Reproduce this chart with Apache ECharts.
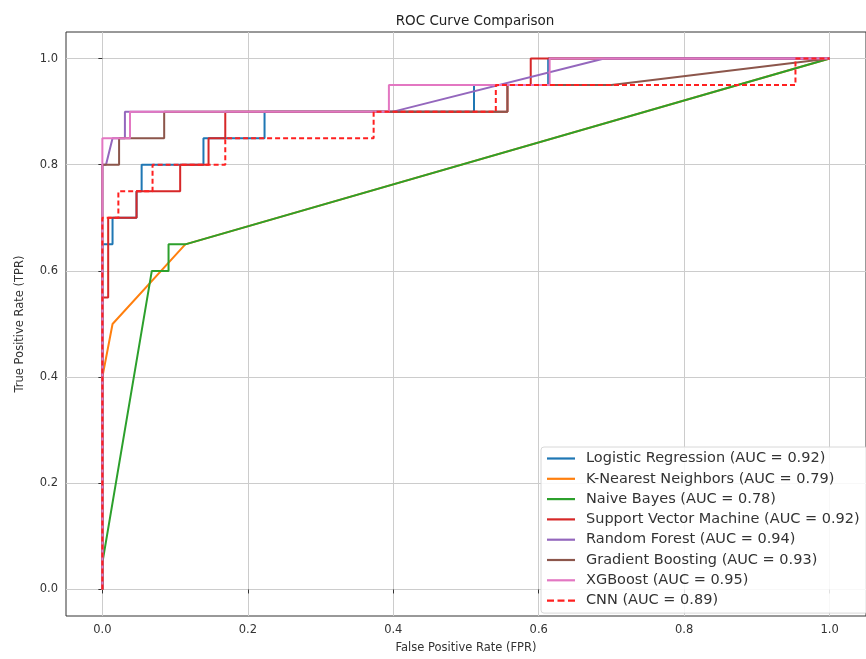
<!DOCTYPE html>
<html lang="en">
<head>
    <meta charset="UTF-8">
    <title>ROC Curve Comparison</title>
    <style>
        * { margin: 0; padding: 0; }
        body { background: #fff; }
        #chart { width: 866px; height: 659px; }
    </style>
</head>
<body>
    <div id="chart"></div>
    <script src="https://cdn.jsdelivr.net/npm/echarts@6.0.0/dist/echarts.min.js"></script>
    <script type="text/javascript">
        // ROC points (FPR / TPR pairs)
        var lrFpr = [0, 0, 0.014, 0.014, 0.047, 0.047, 0.054, 0.054, 0.139, 0.139, 0.223, 0.223, 0.511, 0.511, 0.613, 0.613, 1];
        var lrTpr = [0, 0.65, 0.65, 0.7, 0.7, 0.75, 0.75, 0.8, 0.8, 0.85, 0.85, 0.9, 0.9, 0.95, 0.95, 1, 1];

        var knnFpr = [0, 0, 0.014, 0.114, 1];
        var knnTpr = [0, 0.4, 0.5, 0.65, 1];

        var nbFpr = [0, 0, 0.068, 0.091, 0.091, 0.114, 1];
        var nbTpr = [0, 0.05, 0.6, 0.6, 0.65, 0.65, 1];

        var svmFpr = [0, 0, 0.008, 0.008, 0.047, 0.047, 0.107, 0.107, 0.146, 0.146, 0.169, 0.169, 0.557, 0.557, 0.589, 0.589, 1];
        var svmTpr = [0, 0.55, 0.55, 0.7, 0.7, 0.75, 0.75, 0.8, 0.8, 0.85, 0.85, 0.9, 0.9, 0.95, 0.95, 1, 1];

        var rfFpr = [0, 0, 0.005, 0.014, 0.031, 0.031, 0.4, 0.69, 1];
        var rfTpr = [0, 0.8, 0.8, 0.85, 0.85, 0.9, 0.9, 1, 1];

        var gbFpr = [0, 0, 0.023, 0.023, 0.085, 0.085, 0.557, 0.557, 0.7, 1];
        var gbTpr = [0, 0.8, 0.8, 0.85, 0.85, 0.9, 0.9, 0.95, 0.95, 1];

        var xgbFpr = [0, 0, 0.038, 0.038, 0.394, 0.394, 0.615, 0.615, 1];
        var xgbTpr = [0, 0.85, 0.85, 0.9, 0.9, 0.95, 0.95, 1, 1];

        var cnnFpr = [0, 0, 0.022, 0.022, 0.069, 0.069, 0.169, 0.169, 0.373, 0.373, 0.541, 0.541, 0.953, 0.953, 1];
        var cnnTpr = [0, 0.7, 0.7, 0.75, 0.75, 0.8, 0.8, 0.85, 0.85, 0.9, 0.9, 0.95, 0.95, 1, 1];

        var modelNames = [
            'Logistic Regression (AUC = 0.92)',
            'K-Nearest Neighbors (AUC = 0.79)',
            'Naive Bayes (AUC = 0.78)',
            'Support Vector Machine (AUC = 0.92)',
            'Random Forest (AUC = 0.94)',
            'Gradient Boosting (AUC = 0.93)',
            'XGBoost (AUC = 0.95)',
            'CNN (AUC = 0.89)'
        ];
        var tickValues = [0, 0.2, 0.4, 0.6, 0.8, 1.0];

        var curves = [
            [lrFpr, lrTpr, '#1f77b4', 'solid'],
            [knnFpr, knnTpr, '#ff7f0e', 'solid'],
            [nbFpr, nbTpr, '#2ca02c', 'solid'],
            [svmFpr, svmTpr, '#d62728', 'solid'],
            [rfFpr, rfTpr, '#9467bd', 'solid'],
            [gbFpr, gbTpr, '#8c564b', 'solid'],
            [xgbFpr, xgbTpr, '#e377c2', 'solid'],
            [cnnFpr, cnnTpr, '#ff2020', [5, 3]]
        ];

        // legend glyphs: plain line, or three dashes for the CNN curve
        var solidIcon = 'path://M0,0h28v2.2h-28z';
        var dashIcon = 'path://M0,0h7v2.2h-7zM10.5,0h7v2.2h-7zM21,0h7v2.2h-7z';

        function zip(xs, ys) {
            return xs.map(function (x, i) { return [x, ys[i]]; });
        }

        var font = 'DejaVu Sans';
        var series = curves.map(function (c, i) {
            return {
                name: modelNames[i],
                type: 'line',
                data: zip(c[0], c[1]),
                symbol: 'none',
                showSymbol: false,
                color: c[2],
                lineStyle: { color: c[2], width: 2, type: c[3] }
            };
        });

        var legendData = modelNames.map(function (n, i) {
            return {
                name: n,
                icon: curves[i][3] === 'solid' ? solidIcon : dashIcon,
                itemStyle: { color: curves[i][2] }
            };
        });

        var chart = echarts.init(document.getElementById('chart'));
        chart.setOption({
            animation: false,
            textStyle: { fontFamily: font },
            title: {
                text: 'ROC Curve Comparison',
                left: 470,
                top: 9,
                textAlign: 'center',
                textStyle: { fontFamily: font, fontSize: 13.5, fontWeight: 'normal', color: '#222' }
            },
            grid: {
                left: 66, top: 32, width: 808, height: 585,
                show: true, borderColor: '#333', borderWidth: 1
            },
            legend: {
                orient: 'vertical',
                left: 541,
                top: 447,
                itemWidth: 28,
                itemHeight: 14,
                itemGap: 5.3,
                padding: [4, 8, 5, 6],
                backgroundColor: 'rgba(255,255,255,0.85)',
                borderColor: '#d8d8d8',
                borderWidth: 1,
                borderRadius: 3,
                textStyle: { fontFamily: font, fontSize: 14.5, lineHeight: 14, color: '#333', padding: [0, 0, 0, 6] },
                data: legendData
            },
            xAxis: {
                type: 'value',
                min: -0.05,
                max: 1.05,
                name: 'False Positive Rate (FPR)',
                nameLocation: 'middle',
                nameGap: 26,
                nameTextStyle: { fontFamily: font, fontSize: 11.5, color: '#333' },
                axisLine: { show: false },
                axisTick: { show: true, inside: false, length: 4, customValues: tickValues, lineStyle: { color: '#333' } },
                axisLabel: {
                    customValues: tickValues, margin: 8, fontSize: 11.5, color: '#333',
                    formatter: function (v) { return v.toFixed(1); }
                },
                splitLine: { show: true, lineStyle: { color: '#cccccc', width: 1 } }
            },
            yAxis: {
                type: 'value',
                min: -0.05,
                max: 1.05,
                name: 'True Positive Rate (TPR)',
                nameLocation: 'middle',
                nameGap: 40,
                nameTextStyle: { fontFamily: font, fontSize: 11.5, color: '#333' },
                axisLine: { show: false },
                axisTick: { show: true, inside: false, length: 4, customValues: tickValues, lineStyle: { color: '#333' } },
                axisLabel: {
                    customValues: tickValues, margin: 8, fontSize: 11.5, color: '#333',
                    formatter: function (v) { return v.toFixed(1); }
                },
                splitLine: { show: true, lineStyle: { color: '#cccccc', width: 1 } }
            },
            series: series
        });
    </script>
</body>
</html>
